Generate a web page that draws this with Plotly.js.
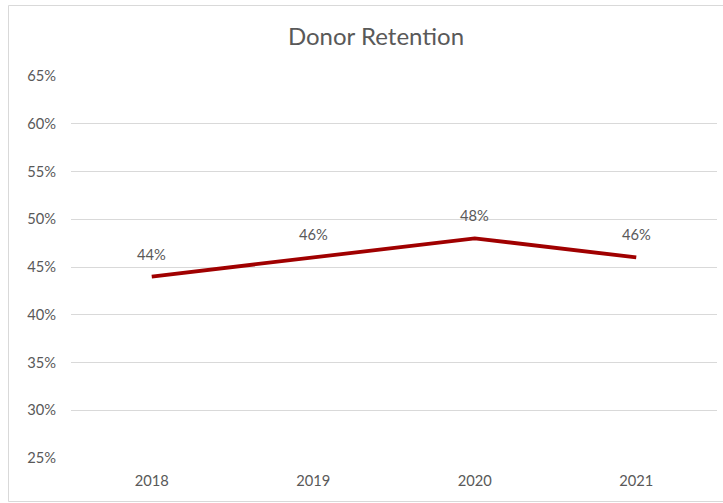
<!DOCTYPE html>
<html><head><meta charset="utf-8">
<script src="https://cdn.plot.ly/plotly-3.0.1.min.js"></script>
<style>html,body{margin:0;padding:0;background:#fff;overflow:hidden;}</style>
</head><body><div id="chart" style="width:723px;height:503px;"></div>
<script>
const years = ['2018', '2019', '2020', '2021'];
const retention = [0.44, 0.46, 0.48, 0.46];
const yTicks = [0.25, 0.30, 0.35, 0.40, 0.45, 0.50, 0.55, 0.60, 0.65];

const FONT = 'Lato, Open Sans, sans-serif';
const W = 723, H = 503, L = 71, R = 6, T = 76, B = 45;
const pw = W - L - R, ph = H - T - B;

const trace = {
  x: years, y: retention, type: 'scatter', mode: 'lines',
  line: {color: '#A00000', width: 3.8}, hoverinfo: 'skip'
};

const annotations = years.map((yr, i) => ({
  x: i, y: retention[i], xref: 'x', yref: 'y',
  text: Math.round(retention[i] * 100) + '%', showarrow: false,
  xanchor: 'center', yanchor: 'middle',
  yshift: 23, font: {family: FONT, size: 14.7, color: '#595959'}
}));

const layout = {
  width: W, height: H,
  margin: {l: L, r: R, t: T, b: B},
  paper_bgcolor: '#fff', plot_bgcolor: '#fff',
  showlegend: false,
  title: {text: 'Donor Retention', x: 376 / W, xref: 'container', xanchor: 'center',
          y: 1 - 37 / H, yref: 'container', yanchor: 'middle',
          font: {family: FONT, size: 24, color: '#595959'}},
  xaxis: {type: 'category', range: [-0.5, 3.5], showgrid: false, zeroline: false,
          showline: false, ticks: '', ticklabelstandoff: 12,
          tickfont: {family: FONT, size: 14.7, color: '#595959'}, fixedrange: true},
  yaxis: {range: [0.25, 0.65], tickvals: yTicks, tickformat: '.0%',
          showgrid: true, gridcolor: '#D9D9D9', gridwidth: 1, zeroline: false,
          showline: false, ticks: '', ticklabelstandoff: 14,
          tickfont: {family: FONT, size: 14.7, color: '#595959'}, fixedrange: true},
  annotations: annotations,
  shapes: [{type: 'rect', xref: 'paper', yref: 'paper',
            x0: (8.5 - L) / pw, x1: (760 - L) / pw,
            y0: (H - B - 501.5) / ph, y1: (H - B - 5.5) / ph,
            line: {color: '#D9D9D9', width: 1}, fillcolor: 'rgba(0,0,0,0)', layer: 'below'}]
};

Plotly.newPlot('chart', [trace], layout, {displayModeBar: false, staticPlot: true});
</script></body></html>
